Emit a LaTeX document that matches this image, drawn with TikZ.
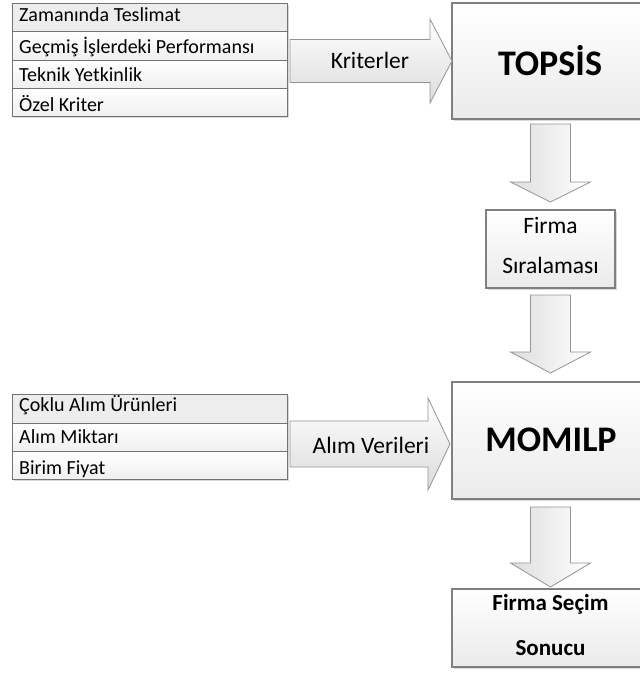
\documentclass[tikz,border=0pt]{standalone}
\usepackage{fontspec}
\setmainfont{Carlito}
\usetikzlibrary{calc,shadows}

% horizontal block arrow: #1 tail centre, #2 tip, #3 shaft half-width, #4 head half-width, #5 head length
\newcommand\blockarrowright[5]{%
  \path[arrowshape, top color=white, bottom color=black!14]
    ($(#1)+(0,-#3)$) -- ($(#2)+(-#5,-#3)$) -- ($(#2)+(-#5,-#4)$) -- (#2)
    -- ($(#2)+(-#5,#4)$) -- ($(#2)+(-#5,#3)$) -- ($(#1)+(0,#3)$) -- cycle;}
% vertical block arrow pointing down
\newcommand\blockarrowdown[5]{%
  \path[arrowshape, left color=black!13, right color=white]
    ($(#1)+(-#3,0)$) -- ($(#2)+(-#3,-#5)$) -- ($(#2)+(-#4,-#5)$) -- (#2)
    -- ($(#2)+(#4,-#5)$) -- ($(#2)+(#3,-#5)$) -- ($(#1)+(#3,0)$) -- cycle;}

\begin{document}
\begin{tikzpicture}[x=1pt,y=-1pt,
  panel/.style={draw=black!50, line width=1.3pt, top color=white, bottom color=black!8,
    inner sep=0pt, outer sep=0pt, anchor=north west,
    drop shadow={shadow xshift=1.5pt, shadow yshift=-1.5pt, opacity=0.3}},
  listframe/.style={draw=black!55, line width=1pt, fill=white, inner sep=0pt, outer sep=0pt,
    anchor=north west, drop shadow={shadow xshift=1.5pt, shadow yshift=-1.5pt, opacity=0.3}},
  listrow/.style={draw=black!55, line width=0.8pt, top color=white, bottom color=black!6,
    inner sep=0pt, outer sep=0pt, anchor=north west, minimum width=275pt},
  firstrow/.style={listrow, top color=black!7, bottom color=black!7},
  arrowshape/.style={draw=black!42, line width=0.8pt, line join=miter},
  itemtext/.style={anchor=base west, inner sep=0pt, font=\fontsize{20}{24}\selectfont, text=black},
  arrowtext/.style={anchor=base, inner sep=0pt, font=\fontsize{23.5}{28}\selectfont, text=black},
  bigtext/.style={anchor=base, inner sep=0pt, font=\fontsize{36}{42}\selectfont\bfseries},
  midtext/.style={anchor=base, inner sep=0pt, font=\fontsize{23.5}{28}\selectfont},
  boldmid/.style={anchor=base, inner sep=0pt, font=\fontsize{23}{27}\selectfont\bfseries},
]
\useasboundingbox (0,0) rectangle (640,673);
\clip (0,0) rectangle (640,673);

% ---- criteria list ----
\node[listframe, minimum width=275pt, minimum height=113pt] (crit) at (12,3) {};
\node[firstrow, minimum height=28pt] (c1) at (12,3) {};
\node[listrow, minimum height=29pt] (c2) at (12,31) {};
\node[listrow, minimum height=28pt] (c3) at (12,60) {};
\node[listrow, minimum height=28pt] (c4) at (12,88) {};
\node[itemtext] (t1) at (19,21) {Zamanında Teslimat};
\node[itemtext] (t2) at (19,53) {Geçmiş İşlerdeki Performansı};
\node[itemtext] (t3) at (19,81) {Teknik Yetkinlik};
\node[itemtext] (t4) at (19,111) {Özel Kriter};

% ---- purchase data list ----
\node[listframe, minimum width=275pt, minimum height=85pt] (buy) at (12,394) {};
\node[firstrow, minimum height=29pt] (b1) at (12,394) {};
\node[listrow, minimum height=28pt] (b2) at (12,423) {};
\node[listrow, minimum height=28pt] (b3) at (12,451) {};
\node[itemtext] (u1) at (19,411) {Çoklu Alım Ürünleri};
\node[itemtext] (u2) at (19,443) {Alım Miktarı};
\node[itemtext] (u3) at (19,474) {Birim Fiyat};

% ---- process boxes ----
\node[panel, minimum width=197pt, minimum height=116pt] (topsis) at (452,3) {};
\node[panel, minimum width=129pt, minimum height=78pt] (rank) at (486,210) {};
\node[panel, minimum width=197pt, minimum height=117pt] (momilp) at (452,382) {};
\node[panel, minimum width=197pt, minimum height=78pt] (result) at (452,589) {};

\node[bigtext] (topsislbl) at (550,75) {TOPSİS};
\node[midtext] (rank1) at (550.5,233) {Firma};
\node[midtext] (rank2) at (550.5,273) {Sıralaması};
\node[bigtext] (momilplbl) at (551,451) {MOMILP};
\node[boldmid] (res1) at (550.5,610) {Firma Seçim};
\node[boldmid] (res2) at (550.5,655) {Sonucu};

% ---- block arrows ----
\coordinate (ka) at ($(crit.east |- topsis.west)+(3,0)$);
\coordinate (kb) at (topsis.west);
\blockarrowright{ka}{kb}{21.5}{42}{22}
\node[arrowtext] (krit) at (370,68) {Kriterler};

\coordinate (aa) at ($(buy.east |- momilp.west)+(3,3.5)$);
\coordinate (ab) at ($(momilp.west)+(-2,3.5)$);
\blockarrowright{aa}{ab}{23}{46}{22}
\node[arrowtext] (alim) at (371,453) {Alım Verileri};

\coordinate (d1a) at ($(topsis.south)+(0,5)$);
\coordinate (d1b) at ($(rank.north)+(0,-8)$);
\blockarrowdown{d1a}{d1b}{20}{40}{20}

\coordinate (d2a) at ($(rank.south)+(0,7)$);
\coordinate (d2b) at ($(momilp.north)+(0,-9)$);
\blockarrowdown{d2a}{d2b}{20}{40}{21}

\coordinate (d3a) at ($(momilp.south)+(0,8)$);
\coordinate (d3b) at ($(result.north)+(0,-2)$);
\blockarrowdown{d3a}{d3b}{20}{40}{24}
\end{tikzpicture}
\end{document}
